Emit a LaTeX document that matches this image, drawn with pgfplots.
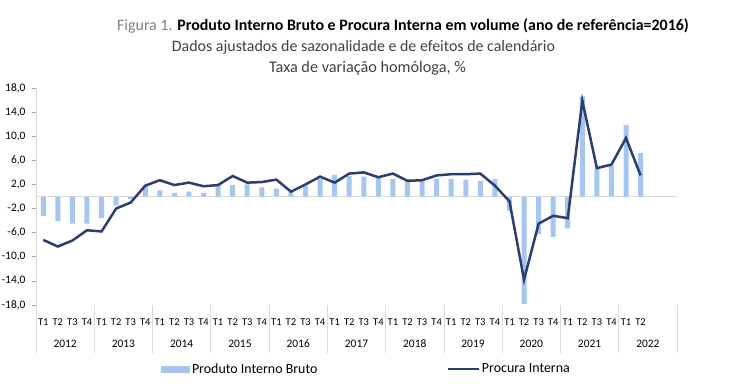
\documentclass[border=0pt]{standalone}
\usepackage{pgfplots}
\pgfplotsset{compat=1.18}
\usepackage{pgfplotstable}
\usepackage{fontspec}
\setmainfont{Carlito}
\definecolor{barblue}{RGB}{166,198,240}
\definecolor{navy}{RGB}{44,62,110}
\definecolor{sepgray}{RGB}{217,217,217}
\definecolor{titlegray}{RGB}{127,127,127}
\definecolor{subgray}{RGB}{64,64,64}

\pgfplotstableread{
i pib pi
0 -3.2 -7.2
1 -4.1 -8.3
2 -4.5 -7.3
3 -4.5 -5.6
4 -3.6 -5.8
5 -1.5 -2.0
6 -0.4 -1.0
7 1.8 1.8
8 1.0 2.7
9 0.6 1.9
10 0.8 2.3
11 0.6 1.7
12 2.0 1.9
13 1.9 3.4
14 2.0 2.3
15 1.5 2.4
16 1.3 2.8
17 0.7 0.8
18 1.8 2.0
19 2.9 3.3
20 3.6 2.3
21 3.4 3.8
22 3.3 4.0
23 3.2 3.2
24 2.9 3.8
25 2.9 2.6
26 2.9 2.7
27 2.9 3.5
28 2.9 3.7
29 2.8 3.7
30 2.6 3.8
31 2.9 1.8
32 -2.4 -0.8
33 -17.8 -13.8
34 -6.3 -4.5
35 -6.7 -3.2
36 -5.3 -3.6
37 16.6 15.9
38 4.6 4.7
39 5.1 5.3
40 11.9 9.7
41 7.2 3.5
}\datatable

\begin{document}
\begin{tikzpicture}
\useasboundingbox (-36bp,-84bp) rectangle (704bp,305bp);
\begin{axis}[
  at={(0,0)}, anchor=south west,
  scale only axis, width=641bp, height=217bp,
  xmin=-0.5, xmax=43.5, ymin=-18, ymax=18,
  clip=false,
  axis y line*=left, axis x line*=bottom,
  x axis line style={draw=none},
  y axis line style={draw=sepgray, line width=0.8bp},
  ytick={-18,-14,...,18},
  /pgf/number format/fixed,
  /pgf/number format/fixed zerofill,
  /pgf/number format/precision=1,
  /pgf/number format/use comma,
  /pgf/number format/assume math mode=true,
  yticklabel style={font=\fontsize{11.5}{13}\selectfont, color=black, xshift=-3bp},
  tick align=outside,
  major tick length=4bp,
  ytick style={draw=gray!70, line width=0.6bp},
  xtick={0,...,41},
  xtick style={draw=none},
  xticklabels={T1,T2,T3,T4,T1,T2,T3,T4,T1,T2,T3,T4,T1,T2,T3,T4,T1,T2,T3,T4,T1,T2,T3,T4,T1,T2,T3,T4,T1,T2,T3,T4,T1,T2,T3,T4,T1,T2,T3,T4,T1,T2},
  xticklabel style={font=\fontsize{10.5}{12}\selectfont, yshift=-6bp},
  legend columns=2,
  legend style={draw=none, fill=none, at={(0.5155,-0.295)}, anchor=center,
    font=\fontsize{14}{16}\selectfont,
    /tikz/every even column/.append style={column sep=127bp}},
]
\draw[sepgray, line width=1bp] (axis cs:-0.5,0) -- (axis cs:43.5,0);
\addplot[ybar, bar width=5bp, fill=barblue, draw=none,
  legend image code/.code={\fill[barblue] (0bp,-3.5bp) rectangle (29bp,3.5bp);}]
  table[x=i, y=pib] {\datatable};
\addlegendentry{Produto Interno Bruto}
\addplot[navy, line width=2.5bp, sharp plot, mark=none,
  legend image code/.code={\draw[navy, line width=2.5bp] (0bp,0bp) -- (31bp,0bp);}]
  table[x=i, y=pi] {\datatable};
\addlegendentry{Procura Interna}
% year separators
\draw[sepgray, line width=0.8bp] (axis cs:-0.5,-18) -- ([yshift=-48bp]axis cs:-0.5,-18);
\draw[sepgray, line width=0.8bp] (axis cs:3.5,-18) -- ([yshift=-48bp]axis cs:3.5,-18);
\draw[sepgray, line width=0.8bp] (axis cs:7.5,-18) -- ([yshift=-48bp]axis cs:7.5,-18);
\draw[sepgray, line width=0.8bp] (axis cs:11.5,-18) -- ([yshift=-48bp]axis cs:11.5,-18);
\draw[sepgray, line width=0.8bp] (axis cs:15.5,-18) -- ([yshift=-48bp]axis cs:15.5,-18);
\draw[sepgray, line width=0.8bp] (axis cs:19.5,-18) -- ([yshift=-48bp]axis cs:19.5,-18);
\draw[sepgray, line width=0.8bp] (axis cs:23.5,-18) -- ([yshift=-48bp]axis cs:23.5,-18);
\draw[sepgray, line width=0.8bp] (axis cs:27.5,-18) -- ([yshift=-48bp]axis cs:27.5,-18);
\draw[sepgray, line width=0.8bp] (axis cs:31.5,-18) -- ([yshift=-48bp]axis cs:31.5,-18);
\draw[sepgray, line width=0.8bp] (axis cs:35.5,-18) -- ([yshift=-48bp]axis cs:35.5,-18);
\draw[sepgray, line width=0.8bp] (axis cs:39.5,-18) -- ([yshift=-48bp]axis cs:39.5,-18);
\draw[sepgray, line width=0.8bp] (axis cs:43.5,-18) -- ([yshift=-48bp]axis cs:43.5,-18);
% year labels
\begin{scope}[every node/.style={font=\fontsize{11.5}{13}\selectfont, yshift=-39bp}]
\node at (axis cs:1.5,-18) {2012};
\node at (axis cs:5.5,-18) {2013};
\node at (axis cs:9.5,-18) {2014};
\node at (axis cs:13.5,-18) {2015};
\node at (axis cs:17.5,-18) {2016};
\node at (axis cs:21.5,-18) {2017};
\node at (axis cs:25.5,-18) {2018};
\node at (axis cs:29.5,-18) {2019};
\node at (axis cs:33.5,-18) {2020};
\node at (axis cs:37.5,-18) {2021};
\node at (axis cs:41.5,-18) {2022};
\end{scope}
\end{axis}
\node[font=\fontsize{16}{18}\selectfont] at (367bp,279bp) {\textcolor{titlegray}{Figura 1.} \textbf{Produto Interno Bruto e Procura Interna em volume (ano de referência=2016)}};
\node[font=\fontsize{16}{18}\selectfont, text=subgray] at (327.5bp,258bp) {Dados ajustados de sazonalidade e de efeitos de calendário};
\node[font=\fontsize{16.3}{18}\selectfont, text=subgray] at (331.5bp,237bp) {Taxa de variação homóloga, \%};
\end{tikzpicture}
\end{document}
